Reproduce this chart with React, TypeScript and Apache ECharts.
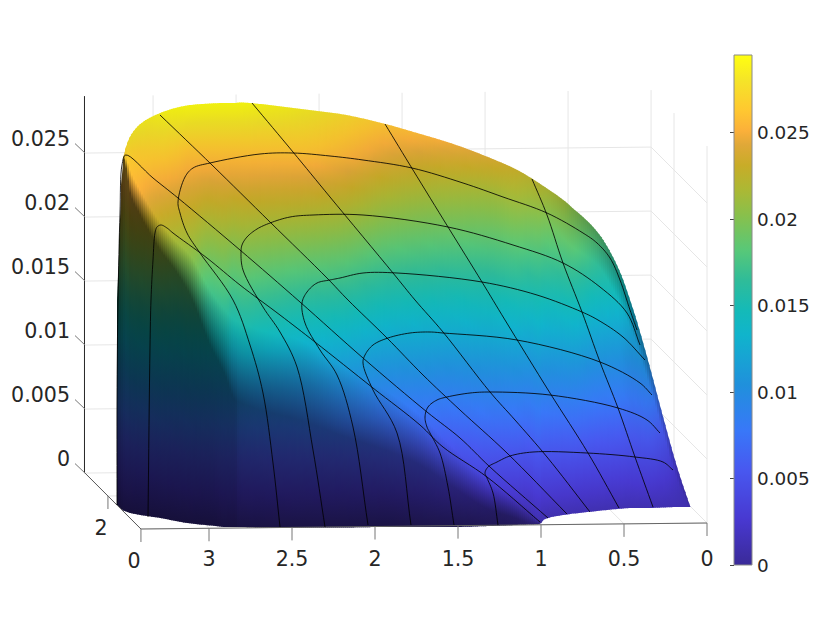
import React, { useEffect, useRef } from "react";
import * as echarts from "echarts";

const FONT = '"DejaVu Sans", sans-serif';
const INK = "#262626";

// axis ticks
const xTicks = [0, 0.5, 1, 1.5, 2, 2.5, 3];
const yTicks = [0, 2];
const zTicks = [0, 0.005, 0.01, 0.015, 0.02, 0.025];
const xMax = 3.41;
const yMax = 3.39;
const zMax = 0.02945;
const colorMax = 0.02948;

// colour scale: value, colour
const scaleValues = [0, 0.0026, 0.0055, 0.0078, 0.0104, 0.0133, 0.0147, 0.0165, 0.0182, 0.0202, 0.0217, 0.0231, 0.0243, 0.0251, 0.0263, 0.028, 0.02948];
const scaleColors = ["#3a2a98", "#4838d0", "#4858f0", "#3878f8", "#2090dc", "#10b4cc", "#14bab8", "#30bc98", "#58c878", "#88c04c", "#acb834", "#c8ac28", "#e0a838", "#fbb03a", "#ffc830", "#f5e428", "#ffff10"];

// surface, read in the projected plane as columns (station) with five rows:
// outline, inner, crease top, crease foot, floor edge
const stationX = [117, 120, 122, 124, 127, 130, 140, 150, 160, 175, 190, 210, 225, 235, 239, 260, 300, 340, 385, 420, 450, 490, 515, 530, 540, 543, 563, 570, 597, 617, 633, 647, 663, 677, 690];
const outlineY = [300, 213, 165, 153, 143, 136, 124, 117.5, 113, 108, 105, 103.5, 103, 103, 102.5, 104, 109, 114, 124, 134, 143, 158, 169, 177.5, 184, 186, 200, 206, 232, 266, 310, 358, 418, 468, 507];
const innerY = [300, 213, 165, 154, 148, 150, 150, 150, 150, 150, 150, 150, 150, 150, 150, 150, 150, 155, 162, 170, 180, 190, 200, 210, 215, 217, 238, 245, 265, 298, 335, 378, 432, 480, 507];
const creaseTopY = [300, 213, 165, 158, 160, 170, 190, 207, 222, 240, 255, 290, 310, 320, 322, 330, 340, 365, 390, 415, 445, 480, 497, 510, 520, 520, 515, 514, 511, 509, 508, 508, 507.5, 507, 507];
const creaseFootY = [300, 213, 165, 160, 175, 193, 215, 233, 250, 270, 295, 345, 375, 400, 402, 410, 420, 435, 450, 465, 485, 510, 518, 523, 523.5, 520, 515, 514, 511, 509, 508, 508, 507.5, 507, 507];
const floorY = [505, 508, 510, 511, 512, 513, 515, 516.5, 518, 521, 523.5, 525.5, 527, 527, 527, 527.5, 527.5, 527.5, 527, 527, 527, 526, 525, 524.5, 524, 520, 515, 514, 511, 509, 508, 508, 507.5, 507, 507];

const outlineV = [0.016, 0.0228, 0.0265, 0.027, 0.0278, 0.028, 0.0285, 0.0287, 0.029, 0.0293, 0.0295, 0.0295, 0.0295, 0.0295, 0.0295, 0.0292, 0.0285, 0.0275, 0.0262, 0.0255, 0.0248, 0.0238, 0.023, 0.0224, 0.0222, 0.022, 0.0212, 0.0205, 0.0185, 0.0162, 0.013, 0.0105, 0.0062, 0.0028, 0.001];
const innerV = [0.016, 0.0228, 0.0265, 0.0268, 0.0272, 0.027, 0.0268, 0.0268, 0.0268, 0.0266, 0.0262, 0.0262, 0.0262, 0.0262, 0.0262, 0.0262, 0.0262, 0.0255, 0.024, 0.023, 0.0222, 0.0215, 0.0212, 0.0205, 0.0202, 0.02, 0.0188, 0.0185, 0.0165, 0.0142, 0.0118, 0.0095, 0.0055, 0.0023, 0.001];
const creaseTopV = [0.016, 0.0228, 0.0265, 0.0266, 0.0265, 0.026, 0.0251, 0.0239, 0.0228, 0.0215, 0.0205, 0.0175, 0.0165, 0.0155, 0.0155, 0.0148, 0.0135, 0.0115, 0.0092, 0.0075, 0.0055, 0.0036, 0.0024, 0.0015, 0.0012, 0.001, 0.0011, 0.0011, 0.0011, 0.0011, 0.0011, 0.0011, 0.0011, 0.0011, 0.001];
const creaseFootV = [0.016, 0.0228, 0.0265, 0.0265, 0.0258, 0.0248, 0.0234, 0.0222, 0.0212, 0.0195, 0.0178, 0.014, 0.0118, 0.0099, 0.0098, 0.0091, 0.0083, 0.0072, 0.006, 0.0048, 0.0033, 0.0013, 0.0006, 0.0002, 0.0002, 0.001, 0.0011, 0.0011, 0.0011, 0.0011, 0.0011, 0.0011, 0.0011, 0.0011, 0.001];
const floorV = [0, 0, 0, 0, 0, 0, 0, 0, 0, 0, 0, 0, 0, 0, 0, 0, 0, 0, 0, 0, 0, 0, 0, 0, 0, 0.001, 0.0011, 0.0011, 0.0011, 0.0011, 0.0011, 0.0011, 0.0011, 0.0011, 0.001];

const outlineS = [0.3, 0.3, 0.32, 0.9, 0.94, 0.94, 0.94, 0.94, 0.94, 0.94, 0.94, 0.94, 0.94, 0.94, 0.94, 0.94, 0.94, 0.95, 0.96, 0.97, 0.98, 0.98, 0.98, 0.97, 0.95, 0.95, 0.88, 0.85, 0.75, 0.7, 0.65, 0.7, 0.75, 0.8, 0.85];
const innerS = [0.3, 0.3, 0.32, 0.9, 0.96, 0.96, 0.96, 0.96, 0.96, 0.96, 0.96, 0.96, 0.96, 0.96, 0.96, 0.96, 0.96, 0.96, 0.97, 0.97, 0.98, 0.98, 1, 1, 1, 1, 1, 1, 1, 1, 0.95, 0.95, 0.95, 0.95, 0.95];
const creaseTopS = [0.3, 0.3, 0.32, 0.7, 1, 1, 1, 1, 1, 1, 1, 1, 1, 1, 1, 1, 1, 1, 1, 1, 1, 1, 1, 1, 1, 1, 1, 1, 1, 1, 1, 1, 1, 1, 1];
const creaseFootS = [0.3, 0.3, 0.32, 0.35, 0.38, 0.36, 0.36, 0.36, 0.36, 0.36, 0.36, 0.37, 0.38, 0.39, 0.44, 0.46, 0.47, 0.48, 0.5, 0.52, 0.55, 0.55, 0.6, 0.7, 0.8, 1, 1, 1, 1, 1, 1, 1, 1, 1, 1];
const floorS = [0.35, 0.36, 0.37, 0.38, 0.38, 0.38, 0.38, 0.38, 0.38, 0.38, 0.38, 0.38, 0.4, 0.4, 0.43, 0.44, 0.45, 0.45, 0.45, 0.48, 0.5, 0.55, 0.6, 0.7, 0.8, 1, 1, 1, 1, 1, 1, 1, 1, 1, 1];

// mesh curves, read in the projected plane
const diagonalCurves = [
  [[117, 505], [117, 400], [118, 300], [120, 213], [122, 165], [125.7, 155], [153, 178], [178, 198], [240, 250], [300, 302], [363, 358], [427, 412], [460, 438], [490, 467], [548, 518]],
  [[148, 517], [150, 347], [151, 300], [153, 260], [155, 233], [157, 227], [161, 225], [167, 228], [173, 233], [207, 258], [240, 285], [280, 315], [315, 342], [373, 388], [420, 425], [443, 447], [487, 477], [540, 522]],
  [[160, 115], [212, 165], [270, 222], [327, 278], [348, 300], [387, 338], [423, 375], [460, 410], [507, 453], [567, 514]],
  [[252, 103], [293, 152], [330, 197], [393, 273], [415, 300], [443, 332], [490, 392], [515, 420], [547, 457], [590, 512]],
  [[385, 124], [413, 170], [448, 227], [482, 282], [505, 320], [550, 393], [588, 453], [619, 508]],
  [[532, 179], [547, 215], [563, 263], [582, 312], [600, 362], [618, 408], [635, 457], [653, 507]],
];
const arcCurves = [
  [[280, 527], [273, 463], [263, 393], [250, 345], [233, 300], [200, 253], [187, 233], [180, 213], [178, 202], [185, 177], [193, 168], [210, 163], [260, 154], [293, 153], [330, 156], [363, 160], [412, 168], [463, 183], [503, 197], [547, 213], [583, 233], [597, 243], [610, 258], [620, 280], [630, 310], [637, 330]],
  [[325, 527], [313, 450], [297, 367], [280, 332], [263, 307], [243, 270], [241, 253], [242, 245], [247, 237], [257, 229], [270, 223], [290, 217], [313, 215], [363, 215], [448, 227], [513, 245], [563, 263], [600, 287], [627, 313], [640, 345]],
  [[368, 525], [353, 427], [337, 375], [320, 350], [305, 323], [302, 303], [307, 292], [317, 283], [330, 280], [340, 278], [363, 273], [397, 273], [482, 282], [537, 295], [582, 312], [598, 320], [623, 337], [645, 360]],
  [[411, 525], [397, 433], [373, 390], [363, 363], [365, 355], [373, 345], [388, 338], [410, 333], [430, 332], [443, 333], [517, 340], [600, 362], [640, 383], [652, 395]],
  [[454, 525], [448, 487], [440, 453], [430, 433], [427, 427], [425, 417], [428, 407], [437, 400], [447, 397], [470, 393], [490, 392], [550, 395], [618, 408], [647, 420], [660, 433]],
  [[498, 525], [493, 493], [487, 478], [485, 473], [488, 467], [497, 462], [510, 456], [533, 452], [587, 453], [635, 457], [663, 462], [673, 470]],
];

// axes box projection
const origin = [707, 523];
const xStep = [-166, 1.76];
const yStep = [-16.5, -16.5];
const zStep = -12800;
const project = (x: number, y: number, z: number): number[] => [
  origin[0] + xStep[0] * x + yStep[0] * y,
  origin[1] + xStep[1] * x + yStep[1] * y + zStep * z,
];

const hexToRgb = (h: string) => [1, 3, 5].map((i) => parseInt(h.slice(i, i + 2), 16));
const scaleRgb = scaleColors.map(hexToRgb);
const colorOf = (v: number, shade: number): string => {
  let i = 0;
  while (i < scaleValues.length - 2 && v > scaleValues[i + 1]) i++;
  const t = Math.max(0, Math.min(1, (v - scaleValues[i]) / (scaleValues[i + 1] - scaleValues[i])));
  const c = scaleRgb[i].map((a, k) => Math.round((a + (scaleRgb[i + 1][k] - a) * t) * shade));
  return `rgb(${c[0]},${c[1]},${c[2]})`;
};

const rowsY = [outlineY, innerY, creaseTopY, creaseFootY, floorY];
const rowsV = [outlineV, innerV, creaseTopV, creaseFootV, floorV];
const rowsS = [outlineS, innerS, creaseTopS, creaseFootS, floorS];

// monotone cubic drawing of a row between stations, so that the outline is not faceted
const slopes = new Map<number[], number[]>();
const slopesOf = (arr: number[]): number[] => {
  const known = slopes.get(arr);
  if (known) return known;
  const n = arr.length;
  const h = stationX.slice(1).map((x, i) => x - stationX[i]);
  const d = h.map((w, i) => (arr[i + 1] - arr[i]) / w);
  const m = arr.map((_, i) => {
    if (i === 0) return d[0];
    if (i === n - 1) return d[n - 2];
    if (d[i - 1] * d[i] <= 0) return 0;
    const w1 = 2 * h[i] + h[i - 1];
    const w2 = h[i] + 2 * h[i - 1];
    return (w1 + w2) / (w1 / d[i - 1] + w2 / d[i]);
  });
  slopes.set(arr, m);
  return m;
};
const at = (arr: number[], px: number): number => {
  let i = 0;
  while (i < stationX.length - 2 && px > stationX[i + 1]) i++;
  const w = stationX[i + 1] - stationX[i];
  const t = (px - stationX[i]) / w;
  const m = slopesOf(arr);
  const t2 = t * t;
  const t3 = t2 * t;
  return (2 * t3 - 3 * t2 + 1) * arr[i] + (t3 - 2 * t2 + t) * w * m[i] + (3 * t2 - 2 * t3) * arr[i + 1] + (t3 - t2) * w * m[i + 1];
};

// centripetal Catmull-Rom drawing of a mesh curve through its read points
const rounded = (pts: number[][]): number[][] => {
  const out: number[][] = [pts[0]];
  const lerp = (a: number[], b: number[], ta: number, tb: number, t: number) => {
    const w = tb - ta < 1e-6 ? 0 : (t - ta) / (tb - ta);
    return [a[0] + (b[0] - a[0]) * w, a[1] + (b[1] - a[1]) * w];
  };
  for (let i = 0; i < pts.length - 1; i++) {
    const p1 = pts[i];
    const p2 = pts[i + 1];
    const p0 = i > 0 ? pts[i - 1] : [2 * p1[0] - p2[0], 2 * p1[1] - p2[1]];
    const p3 = i < pts.length - 2 ? pts[i + 2] : [2 * p2[0] - p1[0], 2 * p2[1] - p1[1]];
    const gap = (a: number[], b: number[]) => Math.sqrt(Math.hypot(b[0] - a[0], b[1] - a[1]));
    const t0 = 0;
    const t1 = t0 + gap(p0, p1);
    const t2 = t1 + gap(p1, p2);
    const t3 = t2 + gap(p2, p3);
    for (let k = 1; k <= 8; k++) {
      const t = t1 + ((t2 - t1) * k) / 8;
      const a1 = lerp(p0, p1, t0, t1, t);
      const a2 = lerp(p1, p2, t1, t2, t);
      const a3 = lerp(p2, p3, t2, t3, t);
      const b1 = lerp(a1, a2, t0, t2, t);
      const b2 = lerp(a2, a3, t1, t3, t);
      out.push(lerp(b1, b2, t1, t2, t));
    }
  }
  return out;
};

const surfaceItem = (_p: any, api: any) => {
  const children: any[] = [];
  const step = 2;
  const x0 = stationX[0];
  const xEnd = stationX[stationX.length - 1];
  for (let px = x0; px < xEnd; px += step) {
    const nx = Math.min(px + step, xEnd);
    const mid = (px + nx) / 2;
    const ys = rowsY.map((r) => at(r, mid));
    const vs = rowsV.map((r) => at(r, mid));
    const ss = rowsS.map((r) => at(r, mid));
    const a = api.coord([px, at(outlineY, px)]);
    const b = api.coord([nx + 0.6, at(outlineY, nx)]);
    const c = api.coord([nx + 0.6, at(floorY, nx)]);
    const d = api.coord([px, at(floorY, px)]);
    const top = api.coord([mid, ys[0]])[1];
    const bot = api.coord([mid, ys[4]])[1];
    const span = Math.max(bot - top, 0.01);
    const stops: any[] = [];
    for (let r = 0; r < 4; r++) {
      const n = Math.max(1, Math.min(14, Math.ceil((ys[r + 1] - ys[r]) / 10)));
      for (let k = 0; k <= n; k++) {
        const t = k / n;
        const y = ys[r] + (ys[r + 1] - ys[r]) * t;
        stops.push({
          offset: Math.max(0, Math.min(1, (api.coord([mid, y])[1] - top) / span)),
          color: colorOf(vs[r] + (vs[r + 1] - vs[r]) * t, ss[r] + (ss[r + 1] - ss[r]) * t),
        });
      }
    }
    children.push({
      type: "polygon",
      shape: { points: [a, b, c, d] },
      style: { fill: new echarts.graphic.LinearGradient(0, top, 0, bot, stops, true) },
    });
  }
  return { type: "group", children };
};

const lineItem = (pts: number[][], api: any, style: any) => ({
  type: "polyline",
  shape: { points: pts.map((p) => api.coord(p)) },
  style: { fill: null, ...style },
});

const boxItem = (_p: any, api: any) => {
  const grid = { stroke: "#e6e6e6", lineWidth: 1 };
  const children: any[] = [];
  xTicks.forEach((x) => {
    children.push(lineItem([project(x, yMax, 0), project(x, yMax, zMax)], api, grid));
    children.push(lineItem([project(x, 0, 0), project(x, yMax, 0)], api, grid));
  });
  yTicks.forEach((y) => {
    children.push(lineItem([project(0, y, 0), project(0, y, zMax)], api, grid));
    children.push(lineItem([project(0, y, 0), project(xMax, y, 0)], api, grid));
  });
  zTicks.forEach((z) => {
    children.push(lineItem([project(xMax, yMax, z), project(0, yMax, z)], api, grid));
    children.push(lineItem([project(0, yMax, z), project(0, 0, z)], api, grid));
  });
  return { type: "group", children };
};

const frameItem = (_p: any, api: any) => {
  const axis = { stroke: INK, lineWidth: 1 };
  const tick = { stroke: "#777777", lineWidth: 1 };
  const zFoot = project(xMax, yMax, 0);
  const zHead = project(xMax, yMax, zMax);
  const children: any[] = [
    lineItem([[zFoot[0] - 0.53, zFoot[1]], [zHead[0] - 0.53, zHead[1]]], api, axis),
    lineItem([zFoot, project(xMax, 0, 0)], api, { stroke: "#555555", lineWidth: 1 }),
    lineItem([project(xMax, 0, 0), project(0, 0, 0)], api, { stroke: "#666666", lineWidth: 1 }),
  ];
  [...xTicks, xMax].forEach((x) => {
    const p = project(x, 0, 0);
    children.push(lineItem([p, [p[0], p[1] + 13]], api, tick));
  });
  yTicks.slice(1).forEach((y) => {
    const p = project(xMax, y, 0);
    children.push(lineItem([p, [p[0], p[1] + 13]], api, tick));
  });
  zTicks.forEach((z) => {
    const p = project(xMax, yMax, z);
    children.push(lineItem([p, [p[0] - 10, p[1] - 9.5]], api, tick));
  });
  yTicks.forEach((y) => {
    const p = api.coord(project(xMax, y, 0));
    children.push({
      type: "text",
      x: p[0] - 7,
      y: p[1] + 32,
      style: { text: String(y), fill: INK, font: `20.6px ${FONT}`, textAlign: "center", textVerticalAlign: "middle" },
    });
  });
  return { type: "group", children };
};

const meshItem = (_p: any, api: any) => ({
  type: "group",
  children: [...diagonalCurves, ...arcCurves].map((c) =>
    lineItem(rounded(c), api, { stroke: "rgba(0,0,0,0.82)", lineWidth: 1 })
  ),
});

const barItem = (_p: any, api: any) => {
  const lo = api.coord([0, 0]);
  const hi = api.coord([1, colorMax]);
  return {
    type: "rect",
    shape: { x: lo[0], y: hi[1], width: hi[0] - lo[0], height: lo[1] - hi[1] },
    style: {
      stroke: "#8a8a8a",
      lineWidth: 1,
      fill: new echarts.graphic.LinearGradient(
        0, 1, 0, 0,
        scaleValues.map((v, i) => ({ offset: v / colorMax, color: scaleColors[i] }))
      ),
    },
  };
};

const hiddenX = (gridIndex: number, min: number, max: number) => ({ type: "value", gridIndex, min, max, show: false });

export default function App() {
  const ref = useRef<HTMLDivElement>(null);
  useEffect(() => {
    const chart = echarts.init(ref.current!, undefined, { renderer: "svg" });
    const custom = (renderItem: any, z: number, xAxisIndex = 0, yAxisIndex = 0) => ({
      type: "custom",
      xAxisIndex,
      yAxisIndex,
      z,
      silent: true,
      clip: false,
      data: [[0, 0]],
      renderItem,
    });
    chart.setOption({
      animation: false,
      backgroundColor: "#ffffff",
      grid: [
        { left: 0, top: 0, width: 830, height: 642 },
        { left: 141, top: 100, width: 566, height: 429 },
        { left: 85, top: 82, width: 100, height: 377 },
        { left: 734, top: 55, width: 18, height: 510 },
      ],
      xAxis: [
        hiddenX(0, 0, 830),
        {
          type: "value",
          gridIndex: 1,
          min: 0,
          max: xMax,
          inverse: true,
          interval: 0.5,
          splitLine: { show: false },
          axisLine: { show: false },
          axisTick: { show: false },
          axisLabel: { margin: 19, showMaxLabel: false, color: INK, fontSize: 20.6, fontFamily: FONT },
        },
        hiddenX(2, 0, 1),
        hiddenX(3, 0, 1),
      ],
      yAxis: [
        { type: "value", gridIndex: 0, min: 0, max: 642, inverse: true, show: false },
        { type: "value", gridIndex: 1, min: 0, max: 1, show: false },
        {
          type: "value",
          gridIndex: 2,
          min: 0,
          max: zMax,
          interval: 0.005,
          splitLine: { show: false },
          axisLine: { show: false },
          axisTick: { show: false },
          axisLabel: { margin: 15, showMaxLabel: false, color: INK, fontSize: 20.6, fontFamily: FONT },
        },
        {
          type: "value",
          gridIndex: 3,
          position: "right",
          min: 0,
          max: colorMax,
          interval: 0.005,
          splitLine: { show: false },
          axisLine: { show: false },
          axisTick: { show: true, inside: true, length: 4, lineStyle: { color: "#444444", width: 1 } },
          axisLabel: { margin: 5, showMaxLabel: false, color: INK, fontSize: 18.4, fontFamily: FONT },
        },
      ],
      series: [
        custom(boxItem, 1),
        custom(surfaceItem, 2),
        custom(frameItem, 3),
        custom(meshItem, 4),
        custom(barItem, 1, 3, 3),
      ],
    });
    return () => chart.dispose();
  }, []);
  return <div ref={ref} style={{ position: "fixed", left: 0, top: 0, width: 830, height: 642 }} />;
}
